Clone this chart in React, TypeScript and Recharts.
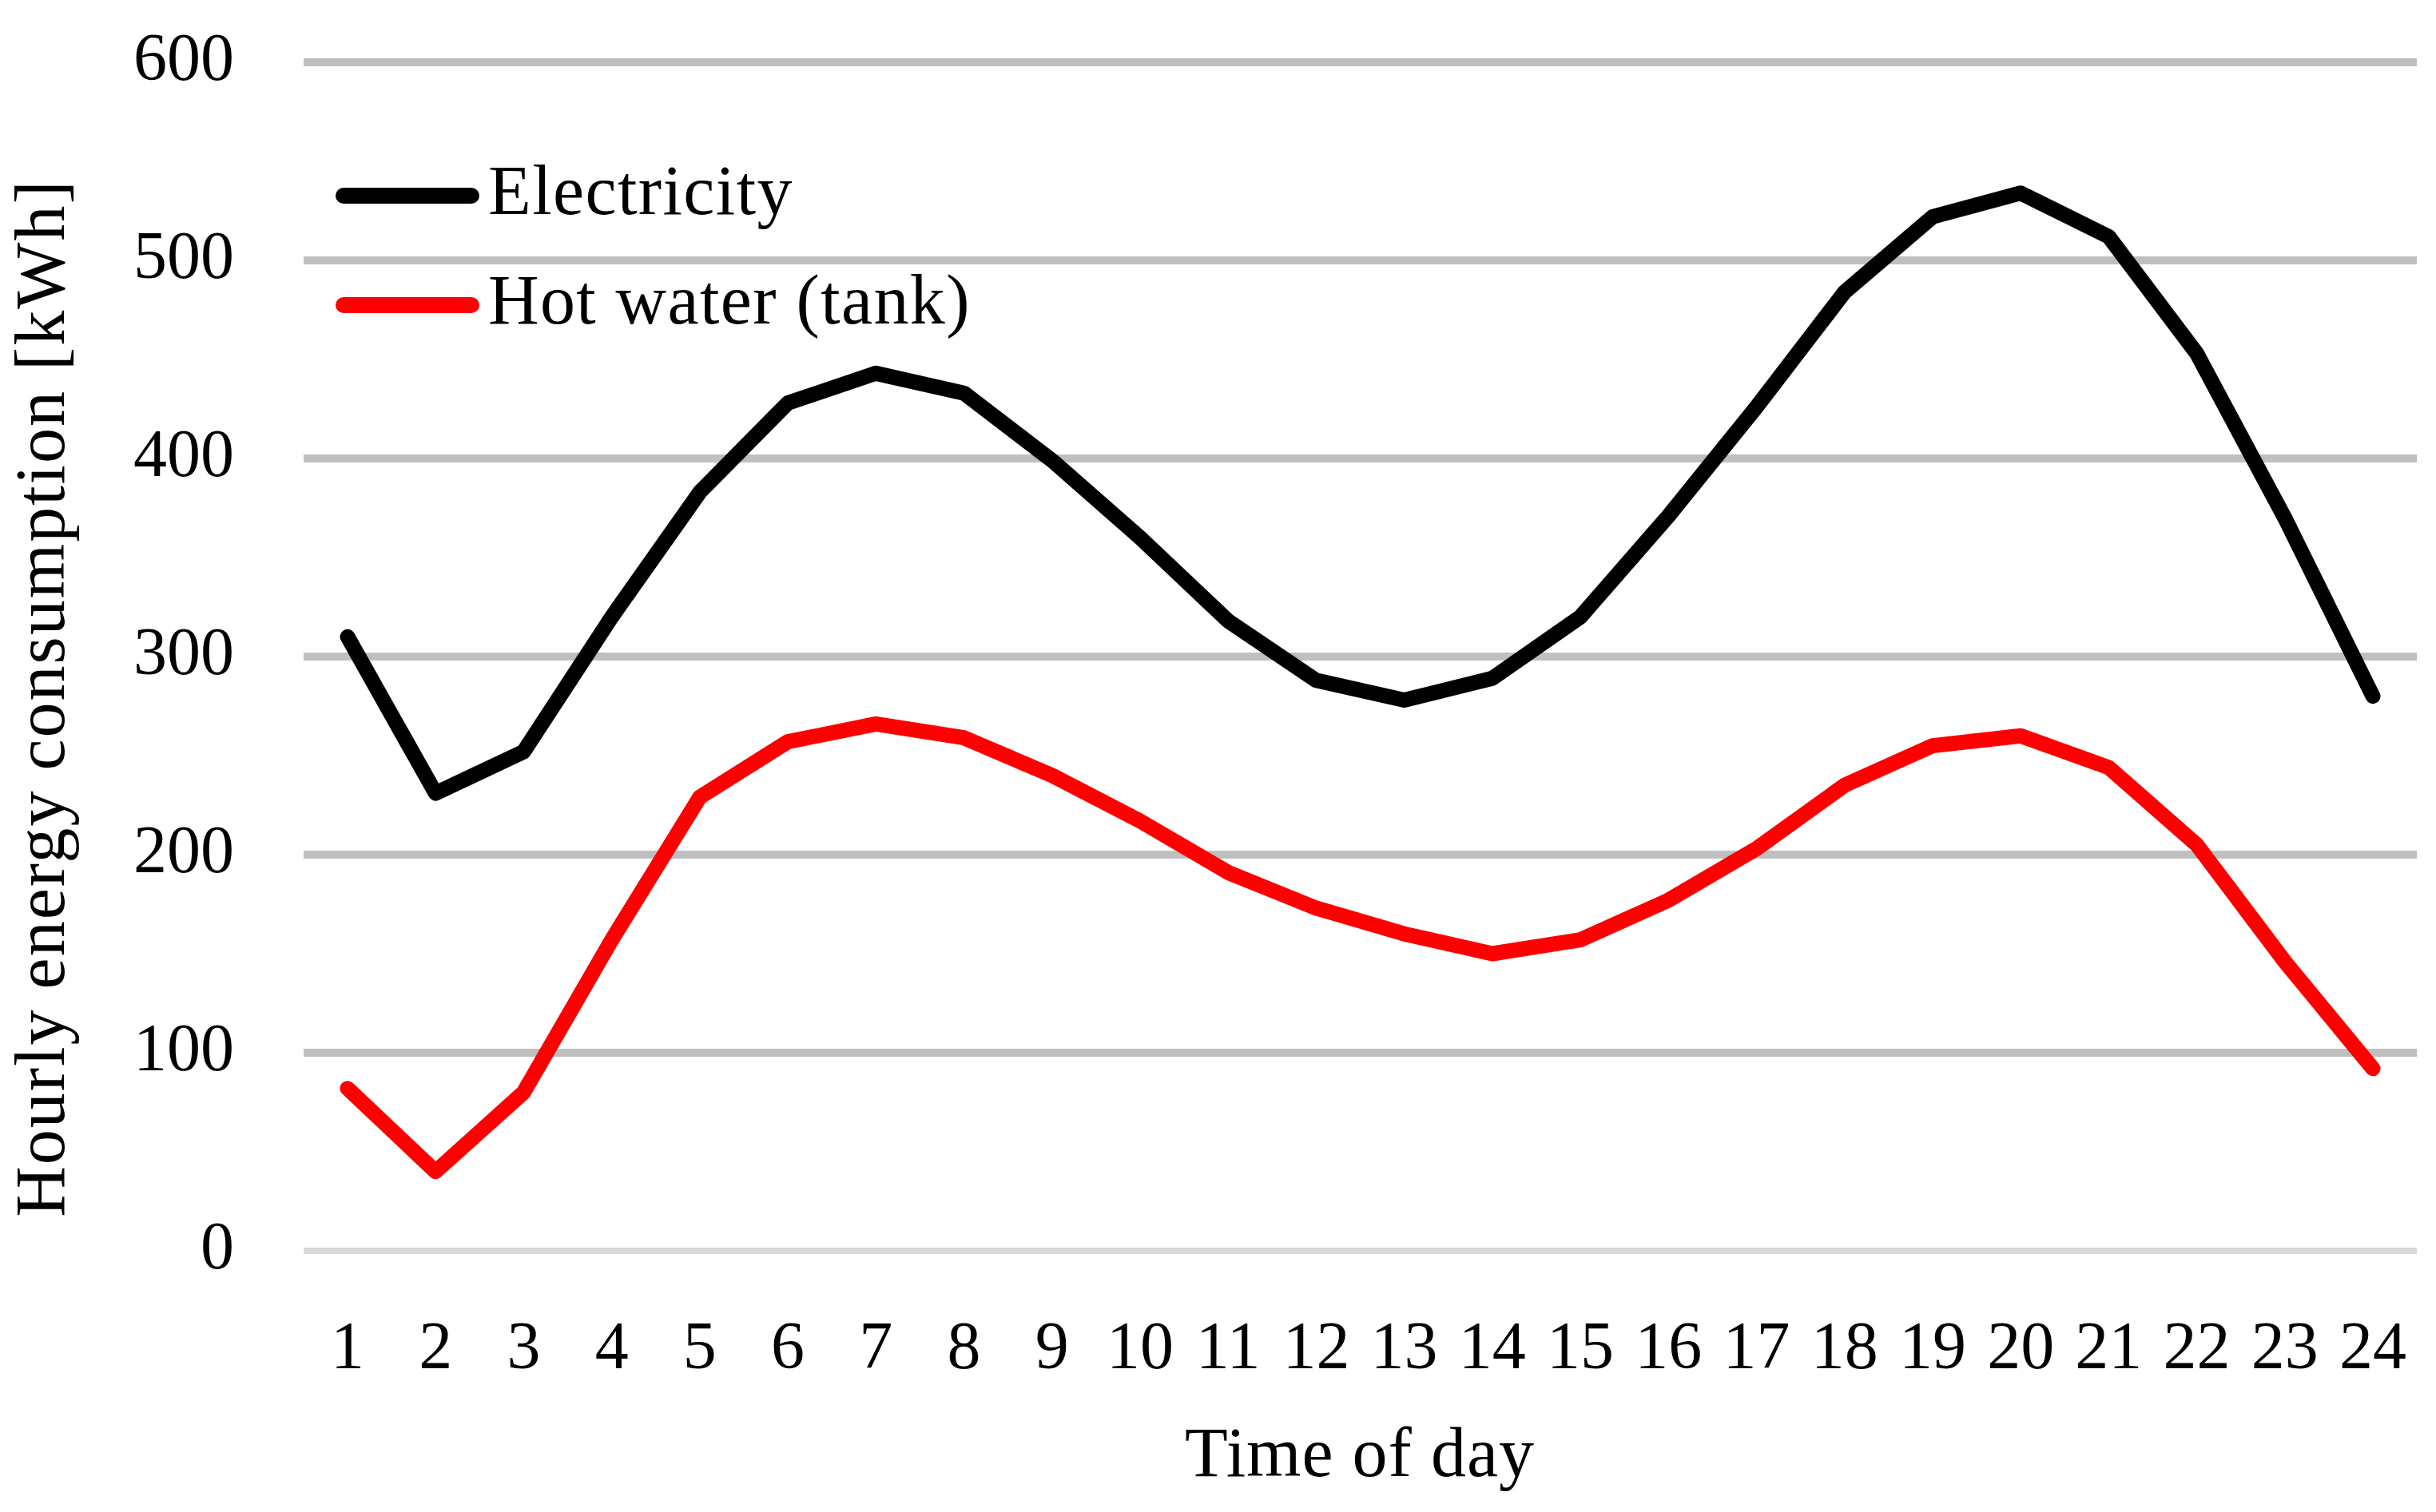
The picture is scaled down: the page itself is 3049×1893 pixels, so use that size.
import { LineChart, Line, XAxis, YAxis, CartesianGrid, Legend } from 'recharts';

const hours = ['1', '2', '3', '4', '5', '6', '7', '8', '9', '10', '11', '12',
  '13', '14', '15', '16', '17', '18', '19', '20', '21', '22', '23', '24'];

// hourly energy consumption [kWh]
const electricity = [310, 231, 252, 320, 383, 428, 443, 433, 399, 360, 318, 288,
  278, 289, 320, 371, 426, 484, 522, 534, 512, 453, 370, 280];
const hotWater = [82, 40, 80, 157, 229, 257, 266, 259, 240, 217, 191, 173,
  160, 150, 157, 177, 203, 235, 255, 260, 244, 205, 146, 92];

const yTicks = [0, 100, 200, 300, 400, 500, 600];
const gridValues = [100, 200, 300, 400, 500, 600];

const seriesInfo = [
  { key: 'electricity', name: 'Electricity', color: '#000000' },
  { key: 'hotWater', name: 'Hot water (tank)', color: '#ff0000' },
];

const chartData = hours.map((h, i) => ({
  hour: h,
  electricity: electricity[i],
  hotWater: hotWater[i],
}));

const FONT = '"Liberation Serif", "Times New Roman", serif';

function YTitle() {
  return (
    <text
      x={80}
      y={874}
      transform="rotate(-90 80 874)"
      textAnchor="middle"
      fontFamily={FONT}
      fontSize={88}
      letterSpacing={2}
      fill="#000"
    >
      Hourly energy consumption [kWh]
    </text>
  );
}

function XTitle() {
  return (
    <text x={1702} y={1848} textAnchor="middle" fontFamily={FONT} fontSize={88} letterSpacing={1} fill="#000">
      Time of day
    </text>
  );
}

function renderLegend() {
  return (
    <svg width={1100} height={300} style={{ display: 'block' }}>
      {seriesInfo.map((s, i) => (
        <g key={s.key}>
          <line
            x1={30}
            x2={190}
            y1={75 + i * 137}
            y2={75 + i * 137}
            stroke={s.color}
            strokeWidth={20}
            strokeLinecap="round"
          />
          <text x={211} y={98 + i * 137} fontFamily={FONT} fontSize={88} letterSpacing={1.4} fill="#000">
            {s.name}
          </text>
        </g>
      ))}
    </svg>
  );
}

export default function App() {
  return (
    <div style={{ position: 'absolute', left: 0, top: 0, background: '#fff' }}>
      <LineChart
        width={3049}
        height={1893}
        data={chartData}
        margin={{ top: 78, right: 24, bottom: 0, left: 0 }}
      >
        <CartesianGrid
          vertical={false}
          horizontalValues={gridValues}
          stroke="#bfbfbf"
          strokeWidth={10}
        />
        <XAxis
          dataKey="hour"
          scale="point"
          padding={{ left: 55, right: 55 }}
          height={327}
          tickLine={false}
          tickSize={0}
          tickMargin={87}
          axisLine={{ stroke: '#d9d9d9', strokeWidth: 8 }}
          tick={{ fontSize: 84, fill: '#000', fontFamily: FONT }}
          interval={0}
          label={<XTitle />}
        />
        <YAxis
          width={380}
          domain={[0, 600]}
          ticks={yTicks}
          axisLine={false}
          tickLine={false}
          tickSize={0}
          tickMargin={87}
          tick={{ fontSize: 84, fill: '#000', fontFamily: FONT, dy: -8 }}
          label={<YTitle />}
        />
        <Legend
          layout="vertical"
          align="center"
          verticalAlign="middle"
          content={renderLegend}
          wrapperStyle={{ left: 400, top: 170, width: 1100, height: 300 }}
        />
        {seriesInfo.map((s) => (
          <Line
            key={s.key}
            type="linear"
            dataKey={s.key}
            name={s.name}
            stroke={s.color}
            strokeWidth={19}
            strokeLinecap="round"
            strokeLinejoin="round"
            dot={false}
            activeDot={false}
            isAnimationActive={false}
          />
        ))}
      </LineChart>
    </div>
  );
}
